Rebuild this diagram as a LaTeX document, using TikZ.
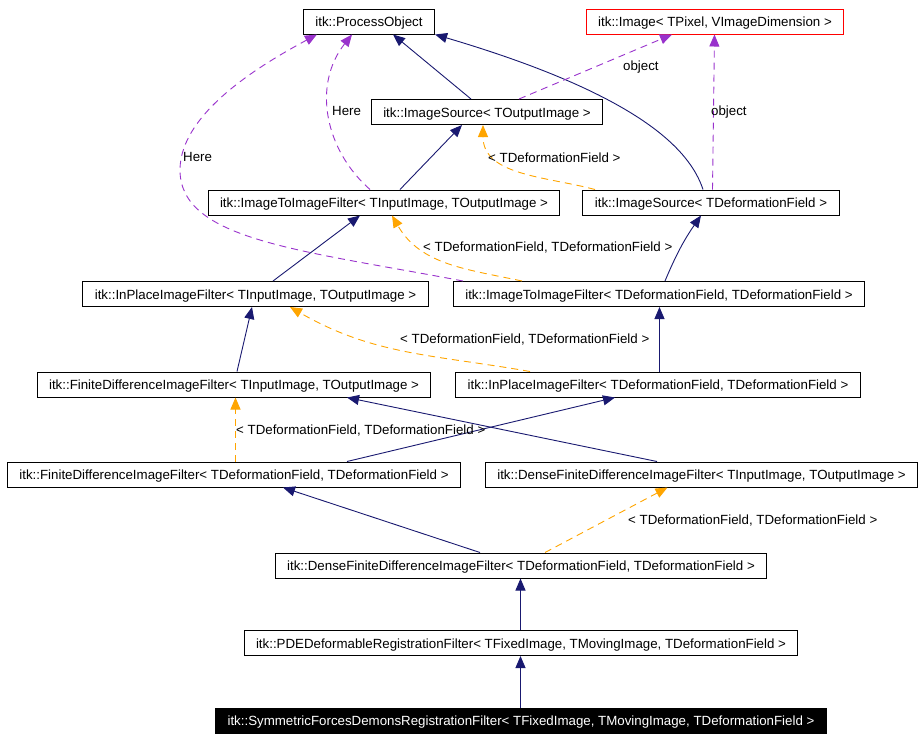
\documentclass[tikz,border=0pt]{standalone}
\usepackage{fontspec}
\setmainfont{Liberation Sans}
\usetikzlibrary{arrows.meta}

\definecolor{inhblue}{RGB}{25,25,112}
\definecolor{tplorange}{RGB}{255,165,0}
\definecolor{usepurple}{RGB}{153,50,204}

\begin{document}
\begin{tikzpicture}[x=1pt,y=1pt,>={Triangle[length=12pt,width=10pt]},
      font=\fontsize{13.3}{16}\selectfont,
      class node/.style={draw,line width=1pt,rectangle,minimum height=25pt,
        inner xsep=12pt,inner ysep=0pt,text height=12.5pt,text depth=2.1pt},
      lbl/.style={inner sep=0pt,anchor=west,text height=12.5pt,text depth=2.1pt},
      inh/.style={->,draw=inhblue,line width=0.9pt},
      tpl/.style={->,draw=tplorange,line width=0.9pt,dash pattern=on 7pt off 5pt},
      use/.style={->,draw=usepurple,line width=0.9pt,dash pattern=on 7pt off 5pt}]
    \useasboundingbox (0,0) rectangle (924,-740);
    % classes
    \node[class node] (PO)    at (369,-21.5)   {itk::ProcessObject};
    \node[class node,draw=red] (Img) at (715,-21.5) {itk::Image< TPixel, VImageDimension >};
    \node[class node] (ISo)   at (487,-112)    {itk::ImageSource< TOutputImage >};
    \node[class node] (ITIio) at (384,-202.5)  {itk::ImageToImageFilter< TInputImage, TOutputImage >};
    \node[class node] (ISd)   at (711,-202.5)  {itk::ImageSource< TDeformationField >};
    \node[class node] (IPio)  at (255.5,-294)  {itk::InPlaceImageFilter< TInputImage, TOutputImage >};
    \node[class node] (ITIdd) at (659,-294)    {itk::ImageToImageFilter< TDeformationField, TDeformationField >};
    \node[class node] (FDio)  at (234,-384.5)  {itk::FiniteDifferenceImageFilter< TInputImage, TOutputImage >};
    \node[class node] (IPdd)  at (658,-384.5)  {itk::InPlaceImageFilter< TDeformationField, TDeformationField >};
    \node[class node] (FDdd)  at (234,-474.5)  {itk::FiniteDifferenceImageFilter< TDeformationField, TDeformationField >};
    \node[class node] (DFio)  at (701.5,-474.5) {itk::DenseFiniteDifferenceImageFilter< TInputImage, TOutputImage >};
    \node[class node] (DFdd)  at (521,-565.5)  {itk::DenseFiniteDifferenceImageFilter< TDeformationField, TDeformationField >};
    \node[class node] (PDE)   at (521,-643)    {itk::PDEDeformableRegistrationFilter< TFixedImage, TMovingImage, TDeformationField >};
    \node[class node,fill=black,text=white] (Sym) at (521,-720.5)
      {itk::SymmetricForcesDemonsRegistrationFilter< TFixedImage, TMovingImage, TDeformationField >};

    % inheritance
    \path
      ([xshift=-16pt]ISo.north)   edge[inh] ([xshift=24pt]PO.south)
      ([xshift=16pt]ITIio.north)  edge[inh] ([xshift=-25pt]ISo.south)
      ([xshift=17.5pt]IPio.north) edge[inh] ([xshift=-24pt]ITIio.south)
      ([xshift=6pt]ITIdd.north)   edge[inh,bend left=6] ([xshift=-10pt]ISd.south)
      ([xshift=3pt]FDio.north)    edge[inh] ([xshift=-3.5pt]IPio.south)
      ([xshift=1.5pt]IPdd.north)  edge[inh] ([xshift=0.5pt]ITIdd.south)
      ([xshift=113pt]FDdd.north)  edge[inh] ([xshift=-43pt]IPdd.south)
      ([xshift=-44.5pt]DFio.north) edge[inh] ([xshift=113pt]FDio.south)
      ([xshift=-41pt]DFdd.north)  edge[inh] ([xshift=49pt]FDdd.south)
      ([xshift=-0.5pt]PDE.north) edge[inh] ([xshift=-0.5pt]DFdd.south)
      ([xshift=-0.5pt]Sym.north) edge[inh] ([xshift=-0.5pt]PDE.south);
    \draw[inh] ([xshift=-8pt]ISd.north) .. controls (690,-150) and (640,-95) .. (PO.south east);

    % template instances
    \path
      ([xshift=-116pt]ISd.north)  edge[tpl,out=165,in=-90] ([xshift=-4pt]ISo.south)
      ([xshift=-137pt]ITIdd.north) edge[tpl,out=168,in=-60] ([xshift=8pt]ITIio.south)
      ([xshift=-128pt]IPdd.north) edge[tpl,out=170,in=-30] ([xshift=34.5pt]IPio.south)
      ([xshift=1.5pt]FDdd.north)  edge[tpl] ([xshift=1.5pt]FDio.south)
      ([xshift=24pt]DFdd.north)   edge[tpl] ([xshift=-34pt]DFio.south);
    \node[lbl] (tISd)  at (488,-157) {< TDeformationField >};
    \node[lbl] (tITI)  at (423,-246) {< TDeformationField, TDeformationField >};
    \node[lbl] (tIP)   at (400,-338) {< TDeformationField, TDeformationField >};
    \node[lbl] (tFD)   at (236,-429) {< TDeformationField, TDeformationField >};
    \node[lbl] (tDF)   at (628,-519) {< TDeformationField, TDeformationField >};

    % usage
    \draw[use] ([xshift=-14pt]ITIio.north) .. controls (325,-150) and (312,-85) .. ([xshift=-17pt]PO.south);
    \draw[use] ([xshift=-196pt]ITIdd.north) .. controls (300,-250) and (180,-240) .. (180,-170)
      .. controls (180,-110) and (270,-60) .. ([xshift=14pt]PO.south west);
    \path
      ([xshift=32pt]ISo.north) edge[use] ([xshift=-43pt]Img.south)
      ([xshift=1.5pt]ISd.north) edge[use] ([xshift=-0.5pt]Img.south);
    \node[lbl] (uHere1) at (332,-110.7) {Here};
    \node[lbl] (uHere2) at (183,-156.7) {Here};
    \node[lbl] (uObj1)  at (623,-65.7)  {object};
    \node[lbl] (uObj2)  at (711,-110.7) {object};
\end{tikzpicture}
\end{document}
